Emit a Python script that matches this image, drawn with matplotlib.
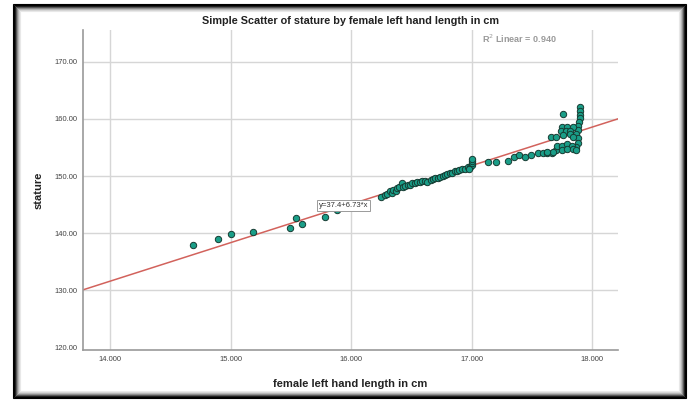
import matplotlib.pyplot as plt
import numpy as np
from matplotlib.patches import Rectangle

plt.rcParams['font.family'] = ['Liberation Sans', 'DejaVu Sans']

# hand length (cm) vs stature, grouped by region of the plot
hand_left = [14.69, 14.90, 15.00, 15.19, 15.49, 15.54, 15.59, 15.78, 15.88]
stat_left = [137.9, 139.0, 139.8, 140.2, 140.9, 142.6, 141.7, 142.9, 144.1]

hand_mid = [16.25, 16.28, 16.30, 16.32, 16.34, 16.35, 16.37, 16.38, 16.40, 16.42,
            16.43, 16.45, 16.47, 16.49, 16.51, 16.53, 16.55, 16.57, 16.59, 16.61,
            16.63, 16.66, 16.68, 16.70, 16.72, 16.74, 16.76, 16.78, 16.80, 16.82,
            16.84, 16.86, 16.88, 16.90, 16.92, 16.95, 16.97, 16.99, 17.00, 17.00,
            17.00, 17.00, 16.98]
stat_mid = [146.4, 146.7, 146.9, 147.3, 147.0, 147.6, 147.4, 147.9, 148.1, 148.7,
            148.0, 148.2, 148.5, 148.4, 148.8, 148.7, 148.9, 149.0, 149.1, 149.2,
            149.0, 149.3, 149.5, 149.6, 149.7, 149.9, 150.0, 150.2, 150.3, 150.5,
            150.6, 150.9, 150.8, 151.0, 151.2, 151.3, 151.5, 151.6, 151.9, 152.2,
            152.6, 152.9, 151.3]

hand_right = [17.14, 17.20, 17.30, 17.35, 17.39, 17.44, 17.49, 17.55, 17.59, 17.63,
              17.67, 17.70, 17.76, 17.90, 17.90, 17.90, 17.90, 17.89, 17.88, 17.88,
              17.87, 17.88, 17.88, 17.87, 17.75, 17.79, 17.84, 17.74, 17.78, 17.82,
              17.66, 17.70, 17.76, 17.82, 17.84, 17.71, 17.75, 17.79, 17.83, 17.75,
              17.79, 17.84, 17.87, 17.68, 17.63]
stat_right = [152.4, 152.4, 152.6, 153.3, 153.6, 153.4, 153.6, 154.0, 154.1, 154.1,
              154.1, 154.5, 160.9, 162.0, 161.3, 160.7, 160.1, 159.5, 158.8, 158.1,
              157.4, 156.6, 155.8, 155.1, 158.5, 158.6, 158.5, 157.9, 157.8, 157.9,
              156.8, 156.8, 157.1, 157.4, 156.8, 155.3, 155.3, 155.6, 155.3, 154.5,
              154.8, 154.8, 154.5, 154.2, 154.2]

intercept, slope = 37.4, 6.73
r_squared = 0.940

x_ticks = [14, 15, 16, 17, 18]
y_ticks = [120, 130, 140, 150, 160, 170]

hand = np.array(hand_left + hand_mid + hand_right)
stature = np.array(stat_left + stat_mid + stat_right)

fig = plt.figure(figsize=(6.96, 4.01), dpi=100)
ax = fig.add_axes([0.1193, 0.1272, 0.888 - 0.1193, 0.925 - 0.1272])

xmin, xmax = 13.776, 18.216
ax.set_xlim(xmin, xmax)
ax.set_ylim(119.6, 175.5)

for t in x_ticks:
    ax.axvline(t, color='#d6d6d6', lw=1.0, zorder=0)
for t in y_ticks[1:]:
    ax.axhline(t, color='#d6d6d6', lw=1.0, zorder=0)

xs = np.array([xmin, xmax])
ax.plot(xs, intercept + slope * xs, color='#d2625c', lw=1.1, zorder=2)

ax.scatter(hand, stature, s=21, c='#1a9e88', edgecolors='#163b32',
           linewidths=0.7, zorder=3)

ax.text(15.735, 144.8, 'y=37.4+6.73*x', fontsize=5.5, color='#333333',
        ha='left', va='center', zorder=4,
        bbox=dict(boxstyle='square,pad=0.25', fc='white', ec='#9a9a9a', lw=0.7))

ax.text(17.4, 173.9, 'R$^2$ Linear = %.3f' % r_squared, fontsize=6.5,
        color='#9a9a9a', fontweight='bold', ha='center', va='center')

ax.set_xticks(x_ticks)
ax.set_xticklabels(['%.3f' % t for t in x_ticks])
ax.set_yticks(y_ticks)
ax.set_yticklabels(['%.2f' % t for t in y_ticks])
ax.tick_params(length=0, labelsize=5.5, labelcolor='#444444', pad=4)

for side in ['top', 'right']:
    ax.spines[side].set_visible(False)
for side in ['left', 'bottom']:
    ax.spines[side].set_color('#9a9a9a')
    ax.spines[side].set_linewidth(1.2)

ax.set_xlabel('female left hand length in cm', fontsize=8, fontweight='bold',
              color='#222222', labelpad=12)
ax.set_ylabel('stature', fontsize=8, fontweight='bold', color='#222222',
              labelpad=8)
fig.text(0.503, 0.948, 'Simple Scatter of stature by female left hand length in cm',
         fontsize=7.8, fontweight='bold', color='#222222', ha='center', va='center')

# dark frame fading inward, one pixel per ring
fw, fh = 696.0, 401.0
x0, y0, x1, y1 = 13, 4, 686, 398
px = 0.72
rings = ['#000000', '#000000', '#1e1e1e', '#555555', '#8a8a8a', '#b5b5b5',
         '#d4d4d4', '#e8e8e8']
for i, col in enumerate(rings):
    off = i
    fig.patches.append(Rectangle(((x0 + off) / fw, (fh - y1 + off) / fh),
                                 (x1 - x0 - 2 * off) / fw, (y1 - y0 - 2 * off) / fh,
                                 transform=fig.transFigure, fill=False,
                                 ec=col, lw=px * 1.1))

fig.savefig('out.png', dpi=100)
